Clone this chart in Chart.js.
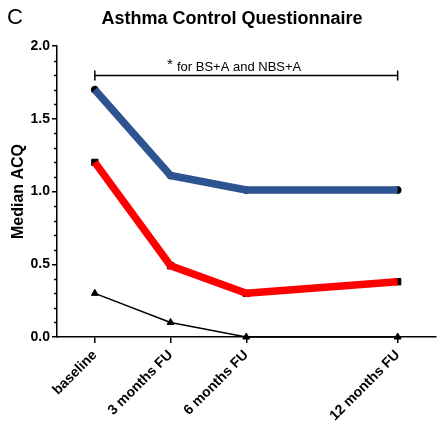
<!DOCTYPE html>
<html>
<head>
<meta charset="utf-8">
<script src="https://cdn.jsdelivr.net/npm/chart.js@4"></script>
<style>
  html, body { margin: 0; padding: 0; background: #fff; }
  #wrap { width: 441px; height: 425px; position: relative; }
</style>
</head>
<body>
<div id="wrap"><canvas id="acq-chart" width="441" height="425"></canvas></div>
<script>
// Asthma Control Questionnaire — median ACQ over follow-up

const months   = [0, 3, 6, 12];
const xLabels  = ['baseline', '3 months FU', '6 months FU', '12 months FU'];
const bsA      = [1.70, 1.11, 1.01, 1.01];   // blue
const nbsA     = [1.20, 0.49, 0.30, 0.38];   // red
const control  = [0.30, 0.10, 0.00, 0.00];   // black
const yMajor   = [0, 0.5, 1.0, 1.5, 2.0];

const FONT = "'Liberation Sans', Arial, sans-serif";
const BLUE = '#2e5391';
const RED  = '#ff0000';

const pts = vals => months.map((m, i) => ({ x: m, y: vals[i] }));
const isMajor = v => yMajor.some(t => Math.abs(t - v) < 1e-6);

// title, panel letter, significance bracket, minor y ticks
const annotations = {
  id: 'annotations',
  afterDraw(chart) {
    const { ctx, scales: { x, y } } = chart;
    ctx.save();
    ctx.fillStyle = '#000';
    ctx.strokeStyle = '#000';
    ctx.textBaseline = 'alphabetic';

    ctx.font = `22px ${FONT}`;
    ctx.textAlign = 'left';
    ctx.fillText('C', 7, 24);

    ctx.font = `bold 18px ${FONT}`;
    ctx.textAlign = 'center';
    ctx.fillText('Asthma Control Questionnaire', 232, 24);

    // minor ticks every 0.1
    ctx.lineWidth = 1.5;
    ctx.beginPath();
    for (let i = 0; i <= 20; i++) {
      const v = i / 10;
      if (isMajor(v)) continue;
      const py = Math.round(y.getPixelForValue(v)) + 0.5;
      ctx.moveTo(y.right - 3, py); ctx.lineTo(y.right, py);
    }
    ctx.stroke();

    // bracket
    const yb = Math.round(y.getPixelForValue(1.8)) + 0.5;
    const x0 = x.getPixelForValue(0), x1 = x.getPixelForValue(12);
    ctx.beginPath();
    ctx.moveTo(x0, yb); ctx.lineTo(x1, yb);
    ctx.moveTo(x0, yb - 5); ctx.lineTo(x0, yb + 5);
    ctx.moveTo(x1, yb - 5); ctx.lineTo(x1, yb + 5);
    ctx.stroke();

    ctx.textAlign = 'left';
    ctx.font = `15px ${FONT}`;
    ctx.fillText('*', 167, 69);
    ctx.font = `13px ${FONT}`;
    ctx.fillText('for BS+A and NBS+A', 177, 71);
    ctx.restore();
  }
};

const lineDs = (vals, color, width) => ({
  data: pts(vals),
  borderColor: color,
  borderWidth: width,
  pointRadius: 0,
  showLine: true,
  borderCapStyle: 'butt',
  borderJoinStyle: 'round',
  clip: false,
  order: 1,
});

const markerDs = (vals, style, r) => ({
  data: pts(vals),
  showLine: false,
  pointStyle: style,
  pointRadius: r,
  pointBackgroundColor: '#000',
  pointBorderColor: '#000',
  pointBorderWidth: 1,
  clip: false,
  order: 2,
});

new Chart(document.getElementById('acq-chart'), {
  type: 'scatter',
  data: {
    datasets: [
      { ...markerDs(control, 'triangle', 4), order: 0 },
      lineDs(control, '#000', 1.5),
      lineDs(bsA, BLUE, 7.5),
      lineDs(nbsA, RED, 7.5),
      markerDs(bsA, 'circle', 3.5),
      markerDs(nbsA, 'rect', 4.5),
    ],
  },
  options: {
    responsive: false,
    animation: false,
    layout: { padding: { top: 46, right: 4, left: 0, bottom: 0 } },
    plugins: {
      legend: { display: false },
      tooltip: { enabled: false },
    },
    scales: {
      x: {
        type: 'linear',
        min: -1.5,
        max: 13.5,
        afterBuildTicks: s => { s.ticks = months.map(v => ({ value: v })); },
        afterFit: s => { s.height = 88; },
        ticks: {
          autoSkip: false,
          minRotation: 45,
          maxRotation: 45,
          padding: 4,
          color: '#000',
          font: { family: FONT, size: 14, weight: 'bold' },
          callback: v => xLabels[months.indexOf(v)] ?? '',
        },
        grid: { drawOnChartArea: false, drawTicks: true, tickLength: 6, color: '#000', lineWidth: 1.5 },
        border: { color: '#000', width: 1.5 },
      },
      y: {
        min: 0,
        max: 2.0,
        afterBuildTicks: s => { s.ticks = yMajor.map(v => ({ value: v })); },
        afterFit: s => { s.width = 57; },
        ticks: {
          autoSkip: false,
          padding: 2,
          color: '#000',
          font: { family: FONT, size: 14, weight: 'bold' },
          callback: v => v.toFixed(1),
        },
        grid: { drawOnChartArea: false, drawTicks: true, tickLength: 5, color: '#000', lineWidth: 1.5 },
        border: { color: '#000', width: 1.5 },
        title: {
          display: true,
          text: 'Median ACQ',
          color: '#000',
          font: { family: FONT, size: 16, weight: 'bold' },
          padding: { top: 9, bottom: 0 },
        },
      },
    },
  },
  plugins: [annotations],
});
</script>
</body>
</html>
